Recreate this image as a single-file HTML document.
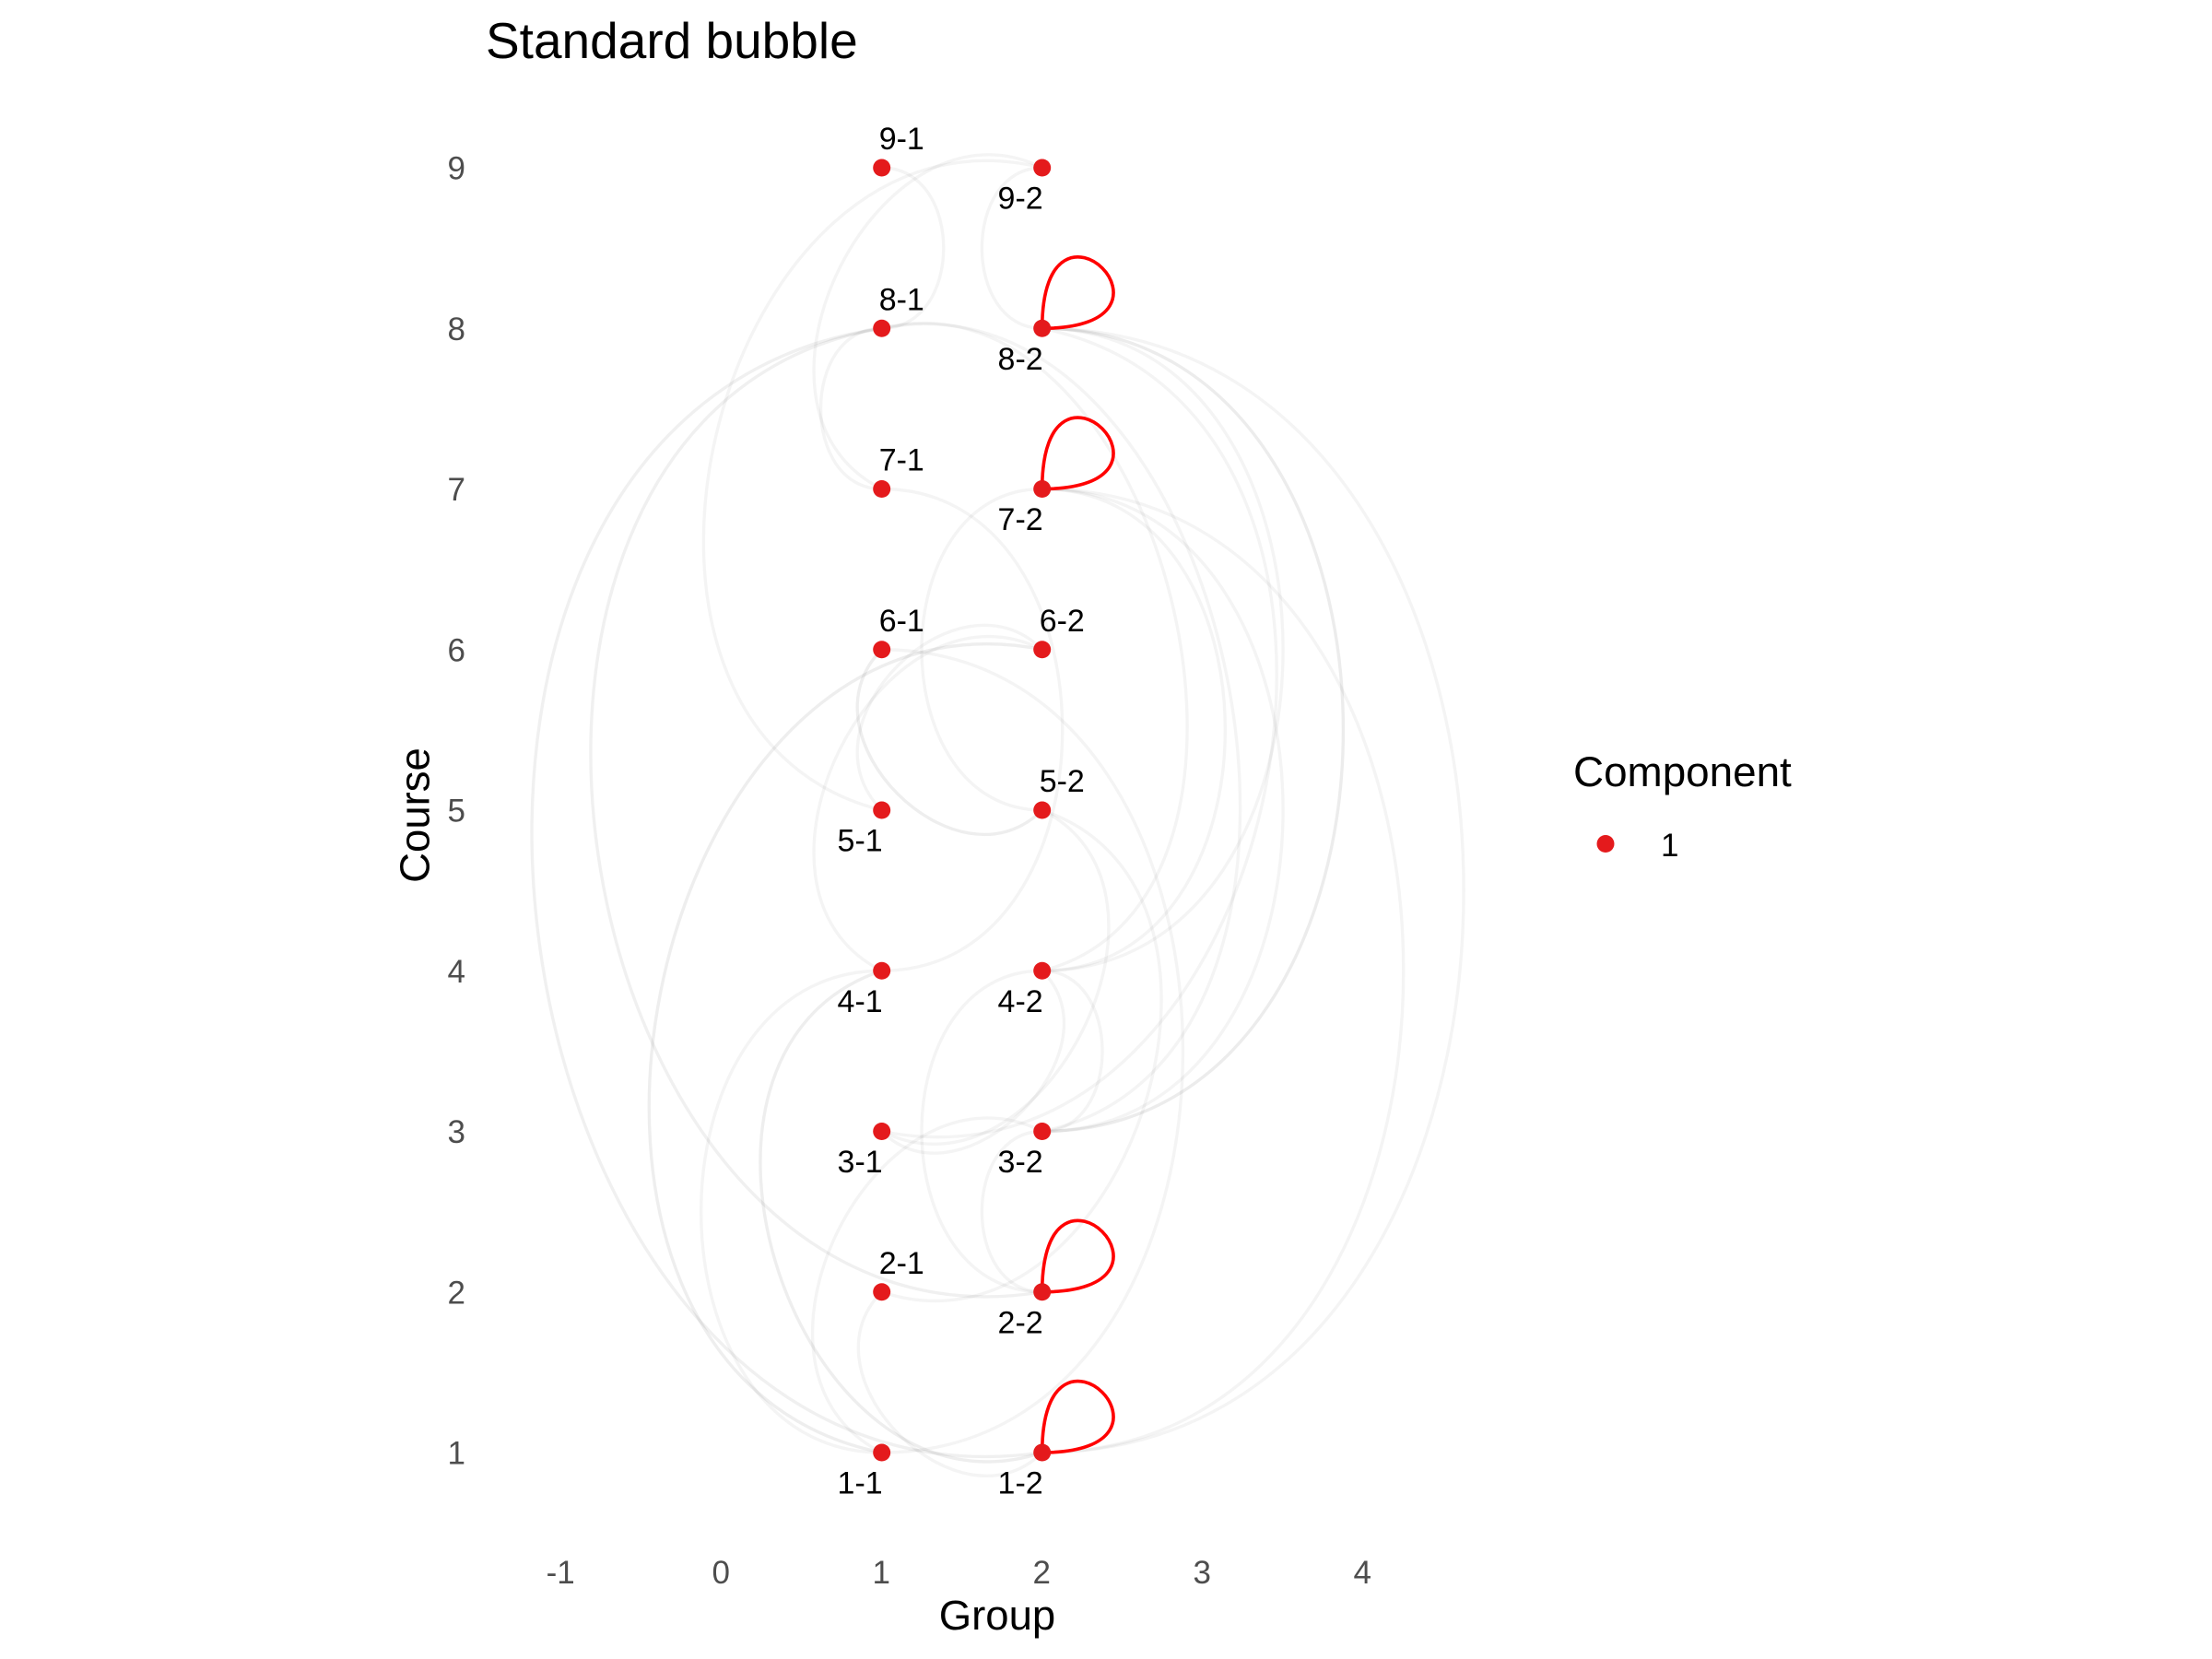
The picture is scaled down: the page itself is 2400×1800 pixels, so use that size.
<!DOCTYPE html>
<html lang="en">
<head>
<meta charset="utf-8">
<title>Standard bubble</title>
<style>
html,body{margin:0;padding:0;background:#fff;}
#chart{display:block;width:2400px;height:1800px;font-family:"Liberation Sans",Arial,sans-serif;}
</style>
</head>
<body>
<svg id="chart" xmlns="http://www.w3.org/2000/svg" width="2400" height="1800" viewBox="0 0 2400 1800">
  <rect x="0" y="0" width="2400" height="1800" fill="#ffffff"></rect>
  <text x="527" y="63" font-size="55" fill="#000">Standard bubble</text>
  <g id="edges"></g>
  <g id="loops"></g>
  <g id="points"></g>
  <g id="labels"></g>
  <g id="xticks"></g>
  <g id="yticks"></g>
  <text x="1082" y="1768" font-size="45.5" text-anchor="middle" fill="#000">Group</text>
  <text transform="translate(465.5,884.5) rotate(-90)" font-size="45.5" text-anchor="middle" fill="#000">Course</text>
  <g>
    <text x="1707" y="853" font-size="45.8" fill="#000">Component</text>
    <circle cx="1742" cy="915.5" r="9.5" fill="#e41a1c"></circle>
    <text x="1802" y="929" font-size="35" fill="#000">1</text>
  </g>
</svg>
<script>
// ---- data ----
const xTickValues = [-1, 0, 1, 2, 3, 4];
const xTickLabels = ["-1", "0", "1", "2", "3", "4"];
const yTickValues = [1, 2, 3, 4, 5, 6, 7, 8, 9];
const yTickLabels = ["1", "2", "3", "4", "5", "6", "7", "8", "9"];
const nodeIds = ["9-1","9-2","8-1","8-2","7-1","7-2","6-1","6-2","5-1","5-2","4-1","4-2","3-1","3-2","2-1","2-2","1-1","1-2"];
const nodeCourse = [9,9,8,8,7,7,6,6,5,5,4,4,3,3,2,2,1,1];
const nodeGroup  = [1,2,1,2,1,2,1,2,1,2,1,2,1,2,1,2,1,2];
const labelAbove = ["9-1","8-1","7-1","6-1","6-2","5-2","2-1"];
const selfLoops = ["8-2","7-2","2-2","1-2"];
// edges: source, target, bulge side (-1 left, +1 right), sagitta as a share of half the chord, relative weight
const edgeFrom = ["9-1","9-2","9-2","9-2","8-1","8-1","8-1","8-1","8-1","8-2","8-2","8-2","8-2","7-1","7-2","7-2","7-2","7-2","6-1","6-2","6-2","6-2","6-1","5-2","2-1","4-2","4-2","4-2","4-1","4-1","3-2","3-2","2-1"];
const edgeTo   = ["8-1","8-2","7-1","5-1","7-1","1-2","2-2","4-2","3-2","1-2","3-2","4-2","3-1","4-1","5-2","1-2","3-2","4-2","5-2","5-1","4-1","1-1","1-1","3-1","5-2","3-2","3-1","2-2","1-1","1-2","2-2","1-1","1-2"];
const edgeSide = [1,-1,-1,-1,-1,-1,-1,1,1,1,1,1,1,1,-1,1,1,1,-1,-1,-1,-1,1,1,1,1,1,-1,-1,-1,-1,-1,-1];
const edgeBulge = [0.77,0.75,0.76,0.76,0.76,0.75,0.75,0.65,0.66,0.75,0.75,0.75,0.755,0.75,0.75,0.75,0.75,0.76,0.8,0.8,0.76,0.75,0.75,0.75,0.75,0.75,0.75,0.75,0.75,0.76,0.75,0.77,0.78];
const edgeWeight = [1,1,1,1,1,1.4,1.4,1,1,1,1.8,1,1,1,1,1,1,1,1.6,1,1,1.6,1,1,1,1,1,1,1,1.6,1,1,1];

// ---- axis functions ----
function xScale(v){ return 782.7 + 174 * v; }
function yScale(v){ return 1576 - 174.25 * (v - 1); }
function nodeXY(id){
  const i = nodeIds.indexOf(id);
  return { x: xScale(nodeGroup[i]), y: yScale(nodeCourse[i]) };
}
const NS = "http://www.w3.org/2000/svg";
function make(tag, parentId){
  const el = document.createElementNS(NS, tag);
  document.getElementById(parentId).appendChild(el);
  return el;
}

// ---- edges ----
edgeFrom.forEach(function(src, i){
  const a = nodeXY(src), b = nodeXY(edgeTo[i]);
  const dx = b.x - a.x, dy = b.y - a.y, len = Math.hypot(dx, dy);
  let nx = -dy / len, ny = dx / len;
  if (nx * edgeSide[i] < 0) { nx = -nx; ny = -ny; }
  const k = edgeBulge[i] * len / 1.5;
  const el = make("path", "edges");
  el.setAttribute("d", "M" + a.x + " " + a.y + "C" + (a.x + k * nx) + " " + (a.y + k * ny) + " " + (b.x + k * nx) + " " + (b.y + k * ny) + " " + b.x + " " + b.y);
  el.setAttribute("fill", "none");
  el.setAttribute("stroke", "#000");
  el.setAttribute("stroke-opacity", String(0.042 * edgeWeight[i]));
  el.setAttribute("stroke-width", "3.4");
  
  
});

// ---- self loops: control points one axis unit away from the node ----
selfLoops.forEach(function(id){
  const i = nodeIds.indexOf(id);
  const g = nodeGroup[i], c = nodeCourse[i];
  const el = make("path", "loops");
  el.setAttribute("d", "M" + xScale(g) + " " + yScale(c) + "C" + xScale(g) + " " + yScale(c + 1) + " " + xScale(g + 1) + " " + yScale(c) + " " + xScale(g) + " " + yScale(c));
  el.setAttribute("fill", "none");
  el.setAttribute("stroke", "#ff0000");
  el.setAttribute("stroke-width", "3.6");
  
  
});

// ---- points and labels ----
nodeIds.forEach(function(id, i){
  const px = xScale(nodeGroup[i]), py = yScale(nodeCourse[i]);
  const dot = make("circle", "points");
  dot.setAttribute("cx", px);
  dot.setAttribute("cy", py);
  dot.setAttribute("r", "9.5");
  dot.setAttribute("fill", "#e41a1c");
  
  
  const above = labelAbove.indexOf(id) >= 0;
  const t = make("text", "labels");
  t.setAttribute("x", above ? px - 3 : px + 1);
  t.setAttribute("y", above ? py - 20 : py + 44.5);
  t.setAttribute("text-anchor", above ? "start" : "end");
  t.setAttribute("font-size", "34");
  t.setAttribute("fill", "#000");
  
  
  t.textContent = id;
});

// ---- ticks ----
xTickValues.forEach(function(v, i){
  const t = make("text", "xticks");
  t.setAttribute("x", xScale(v) - 0.5);
  t.setAttribute("y", 1718);
  t.setAttribute("text-anchor", "middle");
  t.setAttribute("font-size", "35");
  t.setAttribute("fill", "#4d4d4d");
  
  
  t.textContent = xTickLabels[i];
});
yTickValues.forEach(function(v, i){
  const t = make("text", "yticks");
  t.setAttribute("x", 505);
  t.setAttribute("y", yScale(v) + 12.5);
  t.setAttribute("text-anchor", "end");
  t.setAttribute("font-size", "35");
  t.setAttribute("fill", "#4d4d4d");
  
  
  t.textContent = yTickLabels[i];
});
</script>
</body>
</html>
